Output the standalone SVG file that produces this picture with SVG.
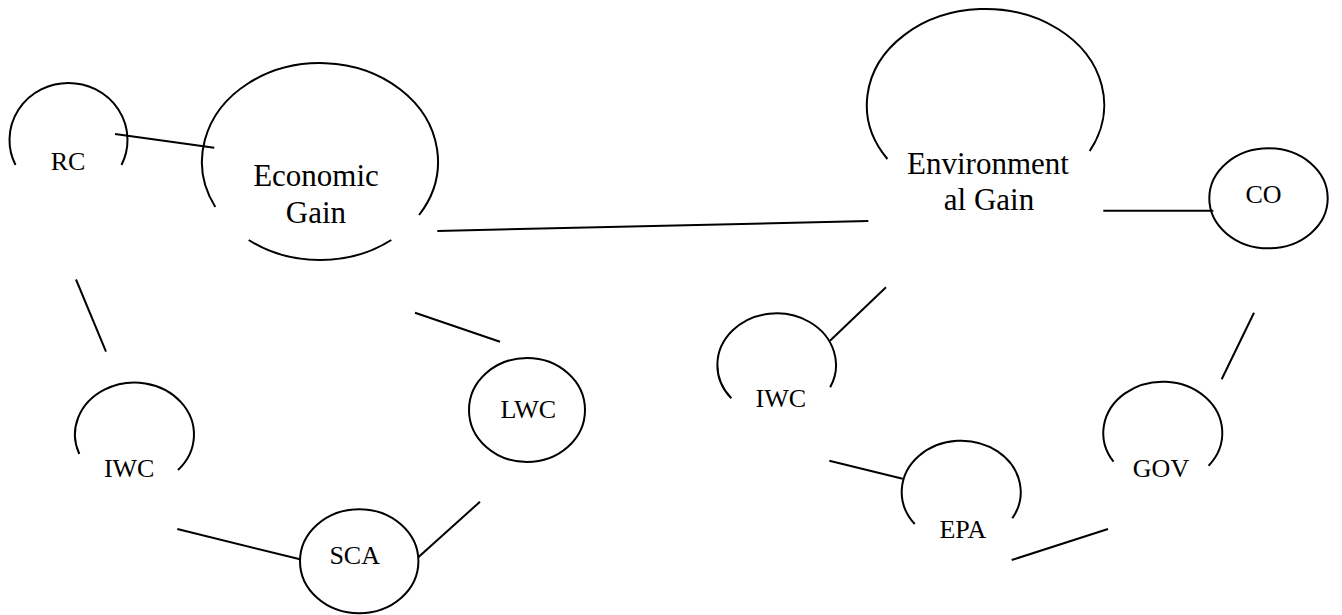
<svg xmlns="http://www.w3.org/2000/svg" width="1342" height="615" viewBox="0 0 1342 615">
<style>
.s{fill:none;stroke:#000;stroke-width:2}
.t{font-family:"Liberation Serif","Times New Roman",serif;font-size:26px;fill:#000;text-anchor:middle}
.b{font-size:31px}
</style>
<rect width="1342" height="615" fill="#fff"/>
<g id="connectors" class="s">
<line x1="115" y1="134" x2="214.3" y2="147.7"/>
<line x1="437.3" y1="231" x2="868.3" y2="221"/>
<line x1="1103.3" y1="210.7" x2="1213.3" y2="210.7"/>
<line x1="76" y1="279.5" x2="106" y2="351.7"/>
<line x1="177.3" y1="529" x2="300" y2="559.3"/>
<line x1="418.3" y1="557.3" x2="480" y2="501.7"/>
<line x1="415" y1="312.7" x2="500" y2="341.7"/>
<line x1="886" y1="287.3" x2="830" y2="340.7"/>
<line x1="829.3" y1="460.7" x2="902.7" y2="478.7"/>
<line x1="1011.7" y1="560" x2="1108" y2="529"/>
<line x1="1254" y1="312.7" x2="1221.7" y2="379.3"/>
</g>
<g id="RC">
<path class="s" d="M15.5,165 A59,57 0 1 1 121.5,165"/>
<text class="t" x="68" y="170">RC</text>
</g>
<g id="EconomicGain">
<path class="s" d="M215.3,207 A118,98.5 0 1 1 419.1,215"/>
<path class="s" d="M248.7,240 A118,98.5 0 0 0 391.3,240"/>
<text class="t b" x="316" y="186">Economic</text>
<text class="t b" x="316" y="223">Gain</text>
</g>
<g id="EnvironmentalGain">
<path class="s" d="M887.4,159 A118.7,96 0 1 1 1089.7,151"/>
<text class="t b" x="988" y="174">Environment</text>
<text class="t b" x="989" y="210">al Gain</text>
</g>
<g id="CO">
<ellipse class="s" cx="1268.5" cy="198.3" rx="59.2" ry="50"/>
<text class="t" x="1263.5" y="202.7">CO</text>
</g>
<g id="LWC">
<ellipse class="s" cx="527" cy="410" rx="58" ry="52"/>
<text class="t" x="528.3" y="418.3">LWC</text>
</g>
<g id="SCA">
<ellipse class="s" cx="359.2" cy="561.2" rx="59.2" ry="52"/>
<text class="t" x="354.7" y="564">SCA</text>
</g>
<g id="IWC1">
<path class="s" d="M79.3,454 A59.5,52 0 1 1 178,470"/>
<text class="t" x="129.2" y="476.7">IWC</text>
</g>
<g id="IWC2">
<path class="s" d="M731.3,398.3 A59.3,51.7 0 1 1 830.2,387.3"/>
<text class="t" x="780.8" y="407.3">IWC</text>
</g>
<g id="EPA">
<path class="s" d="M914.7,524 A59.5,51.3 0 1 1 1012.3,518.3"/>
<text class="t" x="962.8" y="537.7">EPA</text>
</g>
<g id="GOV">
<path class="s" d="M1113.5,461.7 A59.5,51.3 0 1 1 1208.6,465.7"/>
<text class="t" x="1161" y="476.7">GOV</text>
</g>
</svg>
